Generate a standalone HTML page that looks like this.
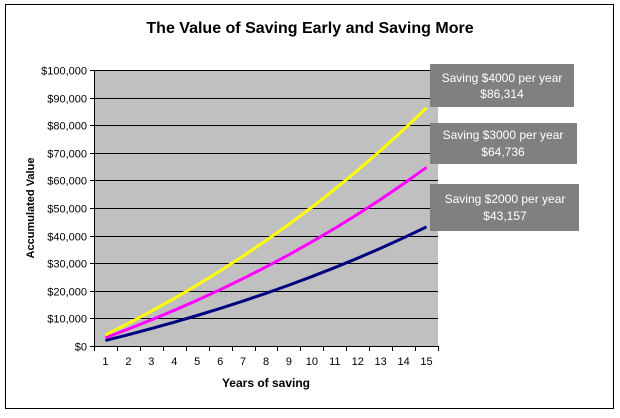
<!DOCTYPE html>
<html><head><meta charset="utf-8"><style>
body{margin:0;background:#fff;font-family:"Liberation Sans",Arial,sans-serif}
</style></head><body>
<svg width="620" height="413" viewBox="0 0 620 413" font-family="Liberation Sans, Arial, sans-serif">
<rect x="5.5" y="4.5" width="608" height="404" fill="#fff" stroke="#000" stroke-width="1"/>
<text x="310" y="33" text-anchor="middle" font-size="16" font-weight="bold">The Value of Saving Early and Saving More</text>
<rect x="94" y="70" width="344" height="276" fill="#c0c0c0"/>
<g id="grid"></g><g id="axes"></g><g id="series"></g>
<text transform="translate(34,208) rotate(-90)" text-anchor="middle" font-size="11" font-weight="bold">Accumulated Value</text>
<text x="266" y="387" text-anchor="middle" font-size="12" font-weight="bold">Years of saving</text>
<g><rect x="430" y="64" width="144" height="43" fill="#808080"/><text x="502" y="82" text-anchor="middle" font-size="12" fill="#fff">Saving $4000 per year</text><text x="502" y="98" text-anchor="middle" font-size="12" fill="#fff">$86,314</text></g>
<g><rect x="430" y="123" width="147" height="41" fill="#808080"/><text x="503" y="139" text-anchor="middle" font-size="12" fill="#fff">Saving $3000 per year</text><text x="503" y="156" text-anchor="middle" font-size="12" fill="#fff">$64,736</text></g>
<g><rect x="430" y="184" width="149" height="47" fill="#808080"/><text x="505" y="203" text-anchor="middle" font-size="12" fill="#fff">Saving $2000 per year</text><text x="505" y="220" text-anchor="middle" font-size="12" fill="#fff">$43,157</text></g>
</svg>
<script>
const categories=[1,2,3,4,5,6,7,8,9,10,11,12,13,14,15];
const save4000=[4000,8200,12610,17241,22103,27208,32568,38196,44106,50312,56827,63669,70852,78394,86314];
const save3000=[3000,6150,9458,12930,16577,20406,24426,28647,33080,37734,42620,47751,53139,58796,64736];
const save2000=[2000,4100,6305,8620,11051,13604,16284,19098,22053,25156,28414,31834,35426,39197,43157];
const yTicks=[0,10000,20000,30000,40000,50000,60000,70000,80000,90000,100000];
const NS="http://www.w3.org/2000/svg";
const L=94,R=438,T=70,B=346,cw=(R-L)/categories.length;
const x=i=>L+cw*(i+0.5);
const y=v=>B-(v/100000)*(B-T);
function mk(tag,attrs,parent){const e=document.createElementNS(NS,tag);for(const k in attrs)e.setAttribute(k,attrs[k]);document.getElementById(parent).appendChild(e);return e;}
yTicks.forEach(v=>{
  const yy=Math.round(y(v))+0.5;
  if(v>0){const g=mk('line',{x1:L,x2:R,y1:yy,y2:yy,stroke:'#000','stroke-width':1},'grid');
  
  }
  const tk=mk('line',{x1:L-4,x2:L,y1:yy,y2:yy,stroke:'#000'},'axes');
  
  
  const t=mk('text',{x:L-7,y:yy+4,'text-anchor':'end','font-size':11},'axes');
  t.textContent='$'+v.toLocaleString('en-US');
  
  
});
const ya=mk('line',{x1:L+0.5,x2:L+0.5,y1:T,y2:B,stroke:'#000'},'axes');


const xa=mk('line',{x1:L,x2:R,y1:B+0.5,y2:B+0.5,stroke:'#000'},'axes');


for(let i=0;i<=categories.length;i++){
  const xx=Math.round(L+cw*i)+0.5;
  const tk=mk('line',{x1:xx,x2:xx,y1:B,y2:B+5,stroke:'#000'},'axes');
  
  
}
categories.forEach((c,i)=>{
  const t=mk('text',{x:x(i),y:B+19,'text-anchor':'middle','font-size':11},'axes');
  t.textContent=c;
  
  
});
[[save2000,'#000080','line-2000'],[save3000,'#ff00ff','line-3000'],[save4000,'#ffff00','line-4000']].forEach(([d,col,n])=>{
  const p=mk('polyline',{points:d.map((v,i)=>x(i)+','+y(v)).join(' '),fill:'none',stroke:col,'stroke-width':3},'series');
  
  
});
</script>
</body></html>
